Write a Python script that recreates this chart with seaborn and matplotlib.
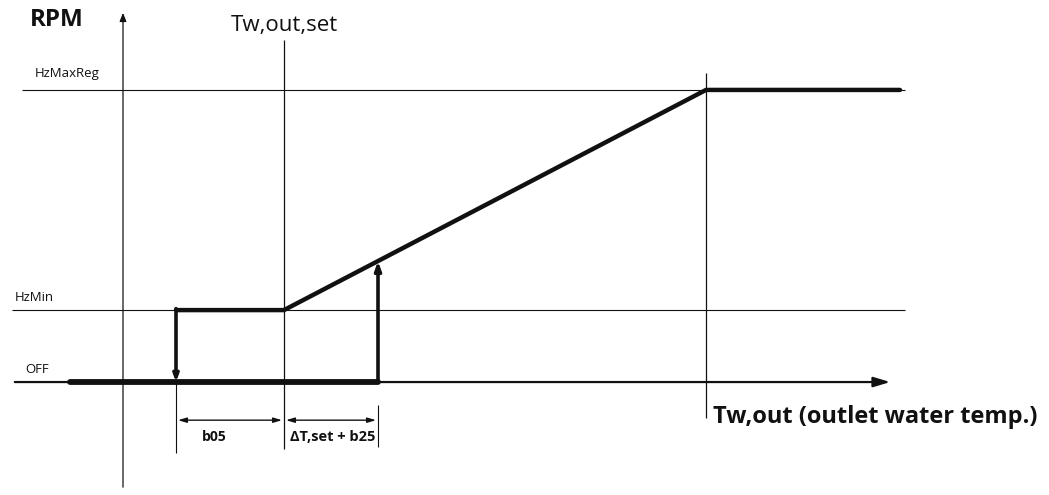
import numpy as np
import pandas as pd
import seaborn as sns
import matplotlib.pyplot as plt

# x in tenths of a pixel-ish "temperature" units, y in RPM levels
levels = {"OFF": 0.0, "HzMin": 1.0, "HzMaxReg": 4.06}
t_left = -5.3      # start of OFF section drawn
t_on = 5.3         # compressor switches on (b05 below set point)
t_set = 16.1       # Tw,out,set
t_up = 25.5        # ΔT,set + b25 above set point
t_max = 58.3       # reaches HzMaxReg
t_right = 77.7

curve = pd.DataFrame({
    "t": [t_on, t_set, t_max, t_right],
    "rpm": [levels["HzMin"], levels["HzMin"], levels["HzMaxReg"], levels["HzMaxReg"]],
})
off_part = pd.DataFrame({"t": [t_left, t_up], "rpm": [0.0, 0.0]})

sns.set_style("white")
plt.rcParams["font.family"] = ["Open Sans", "DejaVu Sans"]

fig = plt.figure(figsize=(10.49, 4.95), dpi=100)
ax = fig.add_axes([0, 0, 1, 1])
ax.set_xlim(-12.3, 92.6)
ax.set_ylim(-1.57, 5.31)
ax.axis("off")

k = "#111111"
# thin reference lines
ax.hlines(levels["HzMaxReg"], -10.1, 78.2, color=k, lw=0.8)
ax.hlines(levels["HzMin"], -11.1, 78.2, color=k, lw=0.8)
ax.vlines(t_set, -0.93, 4.75, color=k, lw=0.9)
ax.vlines(t_max, -0.5, 4.3, color=k, lw=0.9)
ax.vlines(t_on, -0.98, 0.0, color=k, lw=0.8)
ax.vlines(t_up, -0.9, -0.32, color=k, lw=0.8)

# axes with arrows
ax.annotate("", xy=(0, 5.17), xytext=(0, -1.5),
            arrowprops=dict(arrowstyle="-|>,head_length=0.5,head_width=0.2", color=k, lw=0.9))
ax.annotate("", xy=(77.0, 0), xytext=(-11.1, 0),
            arrowprops=dict(arrowstyle="-|>,head_length=1.0,head_width=0.3", color=k, lw=1.6))

# thick control curve
sns.lineplot(data=off_part, x="t", y="rpm", ax=ax, color=k, lw=4.2, sort=False, estimator=None)
sns.lineplot(data=curve, x="t", y="rpm", ax=ax, color=k, lw=3.2, sort=False, estimator=None)

ramp = (t_up - t_set) / (t_max - t_set) * (levels["HzMaxReg"] - levels["HzMin"]) + levels["HzMin"]
ax.annotate("", xy=(t_on, 0.0), xytext=(t_on, levels["HzMin"] + 0.02),
            arrowprops=dict(arrowstyle="-|>,head_length=0.4,head_width=0.15", color=k, lw=2.6,
                            shrinkA=0, shrinkB=0))
ax.annotate("", xy=(t_up, ramp), xytext=(t_up, 0.0),
            arrowprops=dict(arrowstyle="-|>,head_length=0.5,head_width=0.18", color=k, lw=2.6,
                            shrinkA=0, shrinkB=0))

# dimension arrows
dim_y = -0.53
for a, b in [(t_on, t_set), (t_set, t_up)]:
    ax.annotate("", xy=(a + 0.2, dim_y), xytext=(b - 0.2, dim_y),
                arrowprops=dict(arrowstyle="<|-|>,head_length=0.5,head_width=0.15", color=k, lw=1.0,
                                shrinkA=0, shrinkB=0))

# labels
ax.text(-9.3, 5.03, "RPM", fontsize=17.5, fontweight="bold", color=k, va="center")
ax.text(t_set, 4.96, "Tw,out,set", fontsize=16, color=k, ha="center", va="center")
ax.text(-8.8, 4.29, "HzMaxReg", fontsize=9.5, color=k, va="center")
ax.text(-10.8, 1.17, "HzMin", fontsize=9.5, color=k, va="center")
ax.text(-9.8, 0.18, "OFF", fontsize=9.5, color=k, va="center")
ax.text(t_max + 0.7, -0.49, "Tw,out (outlet water temp.)", fontsize=17, fontweight="bold",
        color=k, va="center")
ax.text(9.1, -0.76, "b05", fontsize=10, fontweight="bold", color=k, ha="center", va="center")
ax.text(21.0, -0.76, "ΔT,set + b25", fontsize=10.5, fontweight="bold", color=k, ha="center", va="center")

fig.savefig("out.png", dpi=100)
